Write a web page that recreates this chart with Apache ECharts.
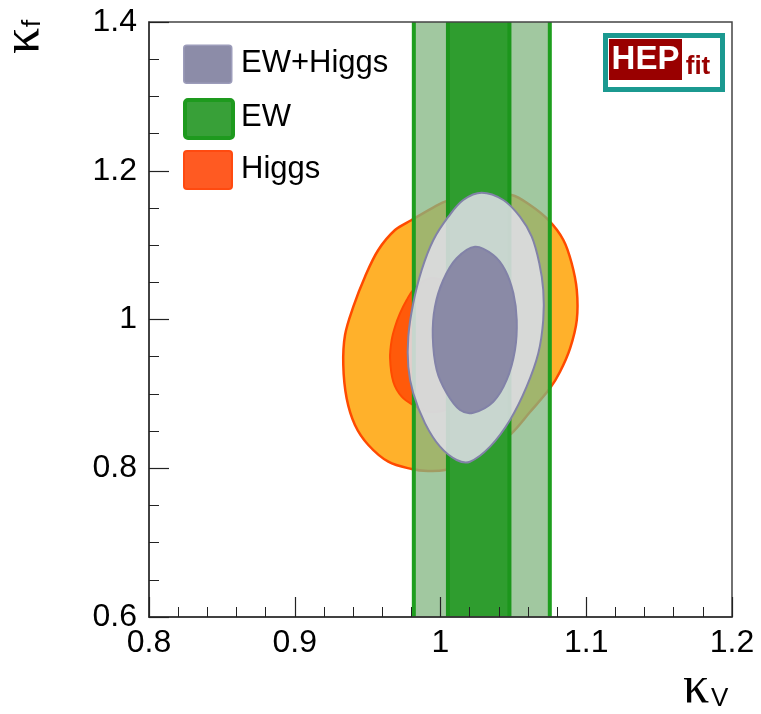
<!DOCTYPE html>
<html>
<head>
<meta charset="utf-8">
<script src="https://cdn.jsdelivr.net/npm/echarts@6/dist/echarts.min.js"></script>
<style>html,body{margin:0;padding:0;background:#fff;}#c{width:761px;height:714px;}</style>
</head>
<body>
<div id="c"></div>
<script>
// ---- axis ranges & tick labels ----
const xMin = 0.8, xMax = 1.2, xStep = 0.1;
const yMin = 0.6, yMax = 1.4, yStep = 0.2;
const xTickLabels = ['0.8', '0.9', '1', '1.1', '1.2'];
const yTickLabels = ['0.6', '0.8', '1', '1.2', '1.4'];

// ---- legend entries ----
const legendNames = ['EW+Higgs', 'EW', 'Higgs'];

// ---- EW constraint on kappa_V (bands) ----
const ew95 = [0.9817, 1.0750];
const ew68 = [1.0051, 1.0473];

// ---- Higgs-only contours (kappa_V, kappa_f) ----
const higgs95 = [
  [1.0271, 1.1701], [1.0488, 1.1674], [1.0614, 1.1539], [1.0740, 1.1338],
  [1.0843, 1.1069], [1.0900, 1.0756], [1.0935, 1.0397], [1.0935, 0.9993],
  [1.0889, 0.9613], [1.0820, 0.9298], [1.0751, 0.9075], [1.0614, 0.8756],
  [1.0488, 0.8470], [1.0340, 0.8245], [1.0168, 0.8071], [1.0031, 0.7976],
  [0.9914, 0.7963], [0.9802, 0.7990], [0.9642, 0.8088], [0.9505, 0.8313],
  [0.9413, 0.8582], [0.9356, 0.8941], [0.9333, 0.9388], [0.9345, 0.9792],
  [0.9402, 1.0172], [0.9482, 1.0575], [0.9573, 1.0934], [0.9688, 1.1203],
  [0.9802, 1.1338], [0.9940, 1.1495], [1.0031, 1.1584], [1.0148, 1.1661]
];
const higgs68 = [
  [0.9813, 1.0397], [0.9768, 1.0262], [0.9722, 1.0083], [0.9688, 0.9903],
  [0.9665, 0.9724], [0.9654, 0.9478], [0.9676, 0.9164], [0.9734, 0.8962],
  [0.9813, 0.8850], [0.9928, 0.8756], [1.0065, 0.8810], [1.0189, 0.9025],
  [1.0257, 0.9388], [1.0257, 0.9792], [1.0189, 1.0195], [1.0065, 1.0464],
  [0.9928, 1.0558]
];

// ---- EW+Higgs combined contours ----
const comb95 = [
  [1.0283, 1.1705], [1.0431, 1.1607], [1.0545, 1.1382], [1.0626, 1.1113],
  [1.0678, 1.0756], [1.0705, 1.0397], [1.0705, 0.9993], [1.0671, 0.9545],
  [1.0591, 0.9097], [1.0477, 0.8649], [1.0340, 0.8290], [1.0202, 0.8088],
  [1.0111, 0.8111], [0.9997, 0.8290], [0.9894, 0.8604], [0.9813, 0.9008],
  [0.9779, 0.9365], [0.9779, 0.9769], [0.9813, 1.0218], [0.9871, 1.0666],
  [0.9951, 1.1069], [1.0054, 1.1382], [1.0156, 1.1607]
];
const comb68 = [
  [1.0237, 1.0979], [1.0362, 1.0867], [1.0443, 1.0666], [1.0500, 1.0352],
  [1.0523, 0.9993], [1.0511, 0.9590], [1.0454, 0.9187], [1.0362, 0.8895],
  [1.0225, 0.8747], [1.0134, 0.8783], [1.0043, 0.9008], [0.9974, 0.9321],
  [0.9947, 0.9769], [0.9962, 1.0172], [1.0019, 1.0531], [1.0111, 1.0823]
];

function contour(name, pts, fill, stroke, lw) {
  return {
    type: 'custom', name: name, coordinateSystem: 'cartesian2d',
    silent: true, animation: false,
    data: [pts[0]],
    renderItem: function (params, api) {
      return {
        type: 'polygon',
        shape: { points: pts.map(function (p) { return api.coord(p); }), smooth: 0.35 },
        style: { fill: fill, stroke: stroke, lineWidth: lw, lineJoin: 'round' }
      };
    }
  };
}

function band(name, range, fill, edge, lw) {
  return {
    type: 'custom', name: name, coordinateSystem: 'cartesian2d',
    silent: true, animation: false,
    data: [[range[0], yMin]],
    renderItem: function (params, api) {
      const a = api.coord([range[0], yMax]);
      const b = api.coord([range[1], yMin]);
      return {
        type: 'group',
        children: [
          { type: 'rect', shape: { x: a[0], y: a[1], width: b[0] - a[0], height: b[1] - a[1] }, style: { fill: fill } },
          { type: 'line', shape: { x1: a[0], y1: a[1], x2: a[0], y2: b[1] }, style: { stroke: edge, lineWidth: lw } },
          { type: 'line', shape: { x1: b[0], y1: a[1], x2: b[0], y2: b[1] }, style: { stroke: edge, lineWidth: lw } }
        ]
      };
    }
  };
}

const chart = echarts.init(document.getElementById('c'));
const FONT = 'Liberation Sans';

const legendStyle = [
  { fill: '#8c8ca8', stroke: '#9c9cba', lw: 1.5 },
  { fill: '#38a038', stroke: '#1e9a1e', lw: 4 },
  { fill: '#ff5a22', stroke: '#ff4a10', lw: 2 }
];
const legendY = [63.5, 117, 169];
const legendGraphics = [];
legendNames.forEach(function (n, i) {
  legendGraphics.push({
    type: 'rect', left: 183, top: legendY[i] - 19, z: 20,
    shape: { width: 48, height: 38, r: 3 },
    style: { fill: legendStyle[i].fill, stroke: legendStyle[i].stroke, lineWidth: legendStyle[i].lw }
  });
  legendGraphics.push({
    type: 'text', x: 241, y: legendY[i], z: 20,
    style: { text: n, font: '31px ' + FONT, fill: '#000', textAlign: 'left', textVerticalAlign: 'middle' }
  });
});

chart.setOption({
  animation: false,
  grid: { left: 149, top: 22, right: 29, bottom: 97, show: true, borderColor: '#444', borderWidth: 1.5, z: 10, backgroundColor: 'transparent' },
  xAxis: {
    type: 'value', min: xMin, max: xMax, interval: xStep, z: 10,
    axisLine: { lineStyle: { color: '#333', width: 1.5 } },
    axisTick: { inside: true, length: 20, lineStyle: { color: '#222', width: 1.2 } },
    minorTick: { show: true, splitNumber: 5, length: 10, lineStyle: { color: '#222', width: 1 } },
    splitLine: { show: false },
    axisLabel: {
      margin: 10, fontSize: 32, fontFamily: FONT, color: '#000',
      formatter: function (v) { return xTickLabels[Math.round((v - xMin) / xStep)]; }
    }
  },
  yAxis: {
    type: 'value', min: yMin, max: yMax, interval: yStep, z: 10,
    axisLine: { lineStyle: { color: '#333', width: 1.5 } },
    axisTick: { inside: true, length: 20, lineStyle: { color: '#222', width: 1.2 } },
    minorTick: { show: true, splitNumber: 4, length: 10, lineStyle: { color: '#222', width: 1 } },
    splitLine: { show: false },
    axisLabel: {
      margin: 12, fontSize: 32, fontFamily: FONT, color: '#000',
      formatter: function (v) { return yTickLabels[Math.round((v - yMin) / yStep)]; }
    }
  },
  series: [
    contour('Higgs 95%', higgs95, '#ffb12b', '#ff4a00', 2.5),
    contour('Higgs 68%', higgs68, '#ff5a0a', '#ff4a00', 2),
    band('EW 95%', ew95, 'rgba(131,183,130,0.76)', '#1e9e1e', 4),
    band('EW 68%', ew68, '#2f9d2f', '#1c961c', 4),
    contour('EW+Higgs 95%', comb95, 'rgba(222,222,230,0.88)', '#8282a8', 2),
    contour('EW+Higgs 68%', comb68, '#8a8aa6', '#8282a8', 2)
  ],
  graphic: legendGraphics.concat([
    // HEPfit logo
    { type: 'rect', left: 603, top: 33, z: 20, shape: { width: 117, height: 54 }, style: { fill: '#fff', stroke: '#1b9990', lineWidth: 5 } },
    { type: 'rect', left: 609, top: 39, z: 21, shape: { width: 73, height: 41 }, style: { fill: '#990000' } },
    { type: 'text', x: 645.5, y: 60, z: 22, style: { text: 'HEP', font: 'bold 33px ' + FONT, fill: '#fff', textAlign: 'center', textVerticalAlign: 'middle' } },
    { type: 'text', x: 698, y: 67, z: 22, style: { text: 'fit', font: 'bold 26px ' + FONT, fill: '#990000', textAlign: 'center', textVerticalAlign: 'middle' } },
    // x-axis title  κ_V
    { type: 'text', x: 683, y: 688, z: 20, style: { text: 'κ', font: '52px Liberation Serif', fill: '#000', textAlign: 'left', textVerticalAlign: 'middle' } },
    { type: 'text', x: 711, y: 698.5, z: 20, style: { text: 'V', font: '26px ' + FONT, fill: '#000', textAlign: 'left', textVerticalAlign: 'middle' } },
    // y-axis title  κ_f (rotated)
    {
      type: 'group', x: 24, y: 54, rotation: Math.PI / 2, z: 20,
      children: [
        { type: 'text', x: 0, y: 0, style: { text: 'κ', font: '52px Liberation Serif', fill: '#000', textAlign: 'left', textVerticalAlign: 'middle' } },
        { type: 'text', x: 27, y: 9, style: { text: 'f', font: '26px ' + FONT, fill: '#000', textAlign: 'left', textVerticalAlign: 'middle' } }
      ]
    }
  ])
});
</script>
</body>
</html>
